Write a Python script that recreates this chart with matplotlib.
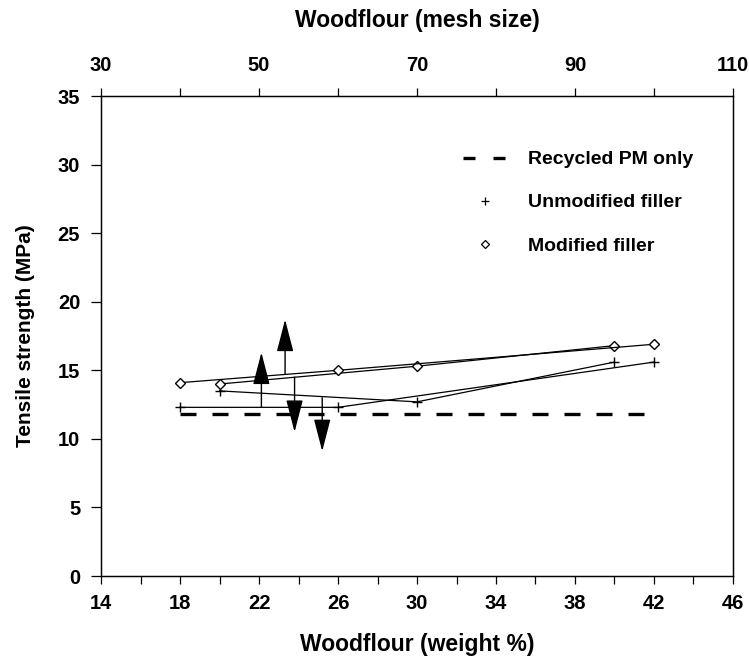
import matplotlib
matplotlib.use("Agg")
import matplotlib.pyplot as plt
from matplotlib.lines import Line2D

plt.rcParams['font.family'] = ['Liberation Sans', 'DejaVu Sans']
plt.rcParams['font.weight'] = 'bold'

# Data: weight-% series (bottom axis) and mesh-size series (top axis)
weight_pct = [20, 30, 40]
unmod_weight = [13.5, 12.7, 15.6]
mod_weight = [14.0, 15.3, 16.8]

mesh_size = [40, 60, 100]
unmod_mesh = [12.3, 12.3, 15.6]
mod_mesh = [14.1, 15.0, 16.9]

recycled_x = [18, 42]
recycled_y = [11.8, 11.8]

# arrows (x, y_start, y_end): which axis each curve belongs to
arrows_mesh = [(50.3, 12.3, 16.3), (53.3, 14.75, 18.7)]
arrows_weight = [(25.2, 13.0, 9.1), (23.8, 14.5, 10.5)]

bottom_ticks = list(range(14, 47, 4))
top_ticks = list(range(30, 111, 20))
y_ticks = list(range(0, 36, 5))

fig = plt.figure(figsize=(7.49, 6.59), dpi=100)
ax = fig.add_axes([0.1349, 0.1259, 0.8437, 0.7284])
ax2 = ax.twiny()

ax.set_xlim(14, 46)
ax.set_ylim(0, 35)
ax2.set_xlim(30, 110)

lw = 0.9
ax.plot(recycled_x, recycled_y, color='black', lw=2.4, dashes=(4.8, 4.8))
ax.plot(weight_pct, unmod_weight, color='black', lw=lw, marker='+', ms=7, mew=1)
ax.plot(weight_pct, mod_weight, color='black', lw=lw, marker='D', ms=5, mfc='white', mew=1)
ax2.plot(mesh_size, unmod_mesh, color='black', lw=lw, marker='+', ms=7, mew=1)
ax2.plot(mesh_size, mod_mesh, color='black', lw=lw, marker='D', ms=5, mfc='white', mew=1)

aprops = dict(arrowstyle='-|>,head_length=1.35,head_width=0.35', mutation_scale=15,
              color='black', lw=1, shrinkA=0, shrinkB=0)
for x, y0, y1 in arrows_mesh:
    ax2.annotate('', xy=(x, y1), xytext=(x, y0), arrowprops=aprops)
for x, y0, y1 in arrows_weight:
    ax.annotate('', xy=(x, y1), xytext=(x, y0), arrowprops=aprops)

tick_font = dict(fontsize=14.5, fontweight='bold')
ax.set_xticks(bottom_ticks)
ax.set_xticks(list(range(14, 47, 2)), minor=True)
ax.set_xticklabels([str(t) for t in bottom_ticks], **tick_font)
ax.set_yticks(y_ticks)
ax.set_yticklabels([str(t) for t in y_ticks], **tick_font)
ax2.set_xticks(top_ticks)
ax2.set_xticks(list(range(30, 111, 10)), minor=True)
ax2.set_xticklabels([str(t) for t in top_ticks], **tick_font)

ax.tick_params(axis='x', which='both', direction='out', length=6, width=0.9, pad=7)
ax.tick_params(axis='y', which='both', direction='out', length=7, width=0.9, pad=8)
ax2.tick_params(axis='x', which='both', direction='out', length=6, width=0.9, pad=9)
ax.tick_params(right=False)

for a in (ax, ax2):
    for s in a.spines.values():
        s.set_linewidth(0.9)

ax.set_xlabel('Woodflour (weight %)', fontsize=16.5, fontweight='bold', labelpad=14)
ax.set_ylabel('Tensile strength (MPa)', fontsize=15, fontweight='bold', labelpad=16)
ax2.set_xlabel('Woodflour (mesh size)', fontsize=16.5, fontweight='bold', labelpad=21)

handles = [
    Line2D([], [], color='black', lw=2.4, dashes=(3.6, 5.4)),
    Line2D([], [], color='black', ls='none', marker='+', ms=6, mew=0.9),
    Line2D([], [], color='black', ls='none', marker='D', ms=4, mfc='white', mew=0.9),
]
labels = ['Recycled PM only', 'Unmodified filler', 'Modified filler']
ax.legend(handles, labels, loc='upper left', bbox_to_anchor=(0.573, 0.886),
          frameon=False, prop=dict(size=14, weight='bold'), handlelength=2.2,
          handletextpad=1.13, labelspacing=1.31, numpoints=1,
          borderpad=0, borderaxespad=0)

fig.savefig('out.png', dpi=100)
